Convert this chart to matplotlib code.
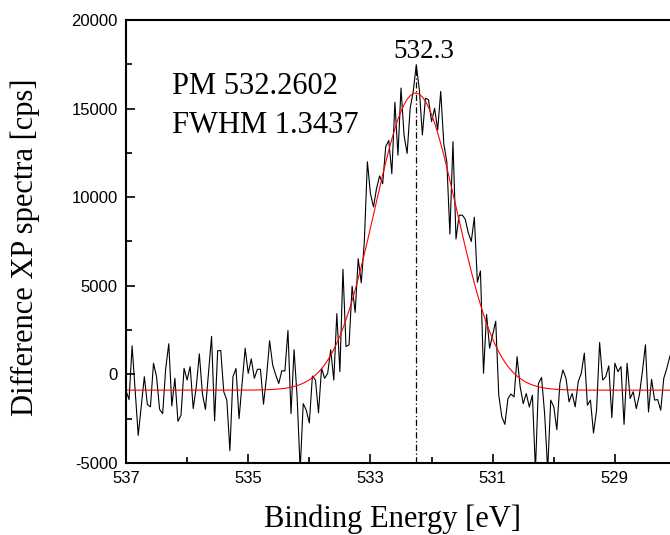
import numpy as np
import matplotlib
matplotlib.use("Agg")
import matplotlib.pyplot as plt
from matplotlib.ticker import MultipleLocator

# Difference XP spectrum, recorded in 0.05 eV steps from 537.0 eV downward
energy_start = 537.0
energy_step = 0.05
counts = [
    -920, -1420, 1610, -900, -3440, -1780, -130, -1700, -1830, 630,
    -130, -1980, -2210, 345, 1730, -1780, -220, -2650, -2300, 345,
    -320, 440, -1930, -700, 1160, -1080, -1980, 60, 2140, -2620,
    1330, 1350, -980, -1450, -4300, -130, 330, -2500, -510, 1480,
    60, 875, -220, 290, 290, -1680, -130, 1900, 530, -30,
    -510, 210, 190, 2480, -2210, 1390, -1270, -5400, -1650, -2020,
    -2740, -90, -320, -2170, 345, -220, 60, 1390, -320, 3430,
    155, 5930, 1570, 1670, 4980, 3500, 6530, 5170, 7500, 12000,
    10200, 9450, 10500, 11200, 10760, 12860, 13200, 11330, 15360, 12370,
    16160, 13500, 12470, 15020, 15970, 17480, 16070, 13510, 15590, 15500,
    14270, 15020, 13790, 15970, 13030, 11990, 7920, 13130, 7640, 8960,
    9000, 8770, 8000, 7500, 8870, 5200, 5840, 60, 3380, 1480,
    2240, 3000, -1170, -2400, -2820, -1360, -1110, -1270, 1000, -700,
    -1650, -1080, -1840, -1170, -5400, -510, -170, -2210, -5400, -1450,
    -1830, -3120, -510, 250, -220, -1550, -1080, -1830, -410, 60,
    1200, -1740, -1450, -3310, -2020, 1800, -320, -130, 480, -2440,
    630, 155, 440, -2820, 630, -1360, -980, -1930, -1170, 155,
    1670, -2120, -280, -1450, -1420, -2020, -220, 345, 1010, 1500,
]

# Gaussian fit (Origin "Gauss" form, width parameter w)
PM = 532.2602
FWHM = 1.3437
fit_offset = -890
fit_height = 16770
peak_label = "532.3"

x_ticks = [537, 535, 533, 531, 529]
y_ticks = [-5000, 0, 5000, 10000, 15000, 20000]
y_tick_labels = ["-5000", "0", "5000", "10000", "15000", "20000"]

energy = np.round(energy_start - energy_step * np.arange(len(counts)), 3)
counts = np.array(counts, dtype=float)
fit = fit_offset + fit_height * np.exp(-2.0 * ((energy - PM) / FWHM) ** 2)

serif = "Liberation Serif"
sans = "Liberation Sans"

fig = plt.figure(figsize=(6.7, 5.35), dpi=100)
ax = fig.add_axes([126 / 670, 72 / 535, 550 / 670, 443 / 535])

ax.plot(energy, counts, color="black", lw=0.8)
ax.plot(energy, fit, color="red", lw=0.8)
ax.vlines(PM, -5000, counts.max(), colors="black", lw=0.9,
          linestyles=(0, (5, 2, 1, 2)))

ax.set_xlim(537, 528)
ax.set_ylim(-5000, 20000)
ax.set_xticks(x_ticks)
ax.set_xticklabels([str(t) for t in x_ticks])
ax.set_yticks(y_ticks)
ax.set_yticklabels(y_tick_labels)
ax.xaxis.set_minor_locator(MultipleLocator(1))
ax.yaxis.set_minor_locator(MultipleLocator(2500))

ax.tick_params(which="both", direction="in", width=1.2, top=False, right=False)
ax.tick_params(which="major", length=6.5, pad=6, labelsize=12)
ax.tick_params(which="minor", length=4.3)
for lab in ax.get_xticklabels() + ax.get_yticklabels():
    lab.set_fontfamily(sans)

for side in ("left", "bottom", "top"):
    ax.spines[side].set_linewidth(1.5)
ax.spines["right"].set_visible(False)

ax.annotate(peak_label, xy=(PM, counts.max()), xytext=(8, 7),
            textcoords="offset pixels", ha="center", va="baseline",
            fontsize=19.5, fontfamily=serif)

fig.text(172 / 670, 1 - 94 / 535, f"PM {PM:.4f}", fontsize=22,
         fontfamily=serif, ha="left", va="baseline")
fig.text(172 / 670, 1 - 133 / 535, f"FWHM {FWHM:.4f}", fontsize=22,
         fontfamily=serif, ha="left", va="baseline")

fig.text(392 / 670, 1 - 527 / 535, "Binding Energy [eV]", fontsize=22,
         fontfamily=serif, ha="center", va="baseline")
fig.text(25 / 670, 1 - 247 / 535, "Difference XP spectra [cps]", fontsize=22,
         fontfamily=serif, ha="center", va="center", rotation=90)

fig.savefig("out.png", dpi=100)
